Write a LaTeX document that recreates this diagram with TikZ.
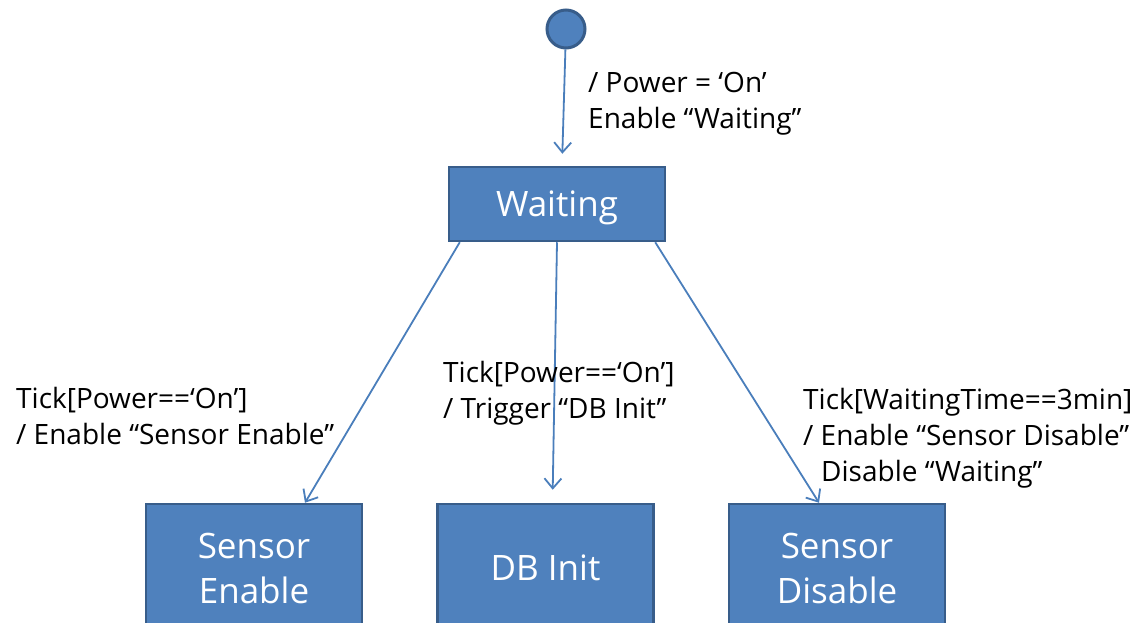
\documentclass[tikz,border=0pt]{standalone}
\usepackage{fontspec}
\setmainfont{Open Sans}
\usetikzlibrary{arrows.meta}
\definecolor{stfill}{HTML}{4F81BD}
\definecolor{stline}{HTML}{385D8A}
\definecolor{trline}{HTML}{4A7EBB}
\tikzset{
  state/.style={draw=stline, fill=stfill, line width=2.5pt, text=white,
    minimum width=216pt, align=center, inner sep=0pt,
    font=\fontsize{35}{45}\selectfont},
  initial/.style={circle, draw=stline, fill=stfill, line width=3pt,
    minimum size=38pt, inner sep=0pt},
  trans/.style={draw=trline, line width=1.8pt,
    -{Straight Barb[length=10pt,width=17pt,line width=1.8pt]}},
  guard/.style={anchor=base west, align=left, inner sep=0pt,
    font=\fontsize{28}{36}\selectfont}
}
\begin{document}
\begin{tikzpicture}[x=1pt,y=-1pt]
  \useasboundingbox (0,0) rectangle (1141,623);
  \clip (0,0) rectangle (1141,623);
  % states
  \node[initial] (start) at (566,29) {};
  \node[state, minimum height=74pt, text depth=0pt] (wait) at (557,204) {Waiting};
  \node[state, minimum height=128pt] (senen) at (254,568) {Sensor\\Enable};
  \node[state, minimum height=128pt] (dbinit) at (545.5,568) {DB Init};
  \node[state, minimum height=128pt] (sendis) at (837,568) {Sensor\\Disable};
  % transitions
  \draw[trans, shorten >=12pt] (start) -- ([xshift=5pt]wait.north);
  \draw[trans] ([xshift=12pt]wait.south west) -- ([xshift=51pt]senen.north);
  \draw[trans, shorten >=13pt] (wait.south) -- ([xshift=7pt]dbinit.north);
  \draw[trans] ([xshift=-11pt]wait.south east) -- ([xshift=-18pt]sendis.north);
  % labels (base = last line)
  \node[guard] (lstart) at (588,129) {/ Power = `On'\\Enable ``Waiting''};
  \node[guard] (lsenen) at (16,444) {Tick[Power==`On']\\/ Enable ``Sensor Enable''};
  \node[guard] (ldbinit) at (443,418) {Tick[Power==`On']\\/ Trigger ``DB Init''};
  \node[guard] (lsendis) at (803,481) {Tick[WaitingTime==3min]\\/ Enable ``Sensor Disable''\\\hspace*{18pt}Disable ``Waiting''};
\end{tikzpicture}
\end{document}
